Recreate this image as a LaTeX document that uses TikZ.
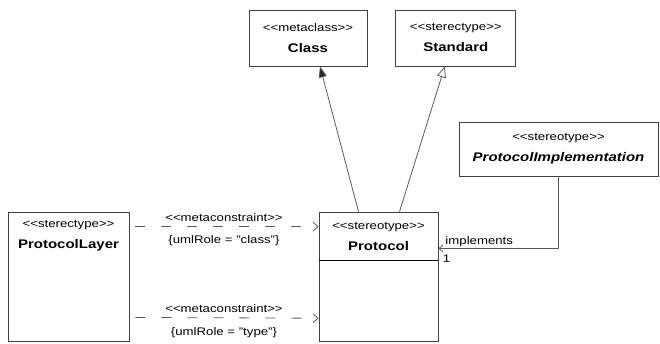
\documentclass[tikz,border=0pt]{standalone}
\usepackage{fontspec}
\setmainfont{Liberation Sans}[FakeStretch=1.2]
\usetikzlibrary{positioning, arrows.meta}

\newcommand{\stereo}[1]{{<}{<}#1{>}{>}}
\newcommand{\umlname}[1]{{\fontsize{12.5}{21}\selectfont\bfseries #1}}

\begin{document}
\begin{tikzpicture}[
    x=1pt, y=-1pt,
    classbox/.style={draw=black!75, line width=0.8pt, inner sep=2pt, align=center, font=\fontsize{11}{21}\selectfont},
    conn/.style={draw=black!65, line width=0.8pt},
    extension/.style={conn, -{Triangle[length=11pt, width=8pt, fill=black!85]}},
    generalization/.style={conn, -{Triangle[open, length=11pt, width=9pt, fill=white]}},
    dependency/.style={conn, dash pattern=on 10pt off 16pt, dash phase=-6pt, -{Straight Barb[length=5pt, width=9pt]}},
    lbl/.style={font=\fontsize{11}{13}\selectfont, inner sep=1pt},
]
\useasboundingbox (0,0) rectangle (660,343);

% metamodel
\node[classbox, minimum width=118pt, minimum height=56pt] (class) at (308,38) {\stereo{metaclass}\\\umlname{Class}};
\node[classbox, minimum width=120pt, minimum height=56pt, right=28pt of class] (standard) {\stereo{sterectype}\\\umlname{Standard}};
\node[classbox, minimum width=199pt, minimum height=54pt] (impl) at (558.5,149) {\stereo{stereotype}\\\umlname{\itshape ProtocolImplementation}};

% protocol with two compartments
\node[classbox, minimum width=119pt, minimum height=48pt] (protohead) at (378.5,236) {\stereo{stereotype}\\\umlname{Protocol}};
\node[classbox, minimum width=119pt, minimum height=81pt, below=0pt of protohead] (protobody) {};
\draw[line width=1.4pt] (protohead.south west) -- (protohead.south east);

\node[classbox, minimum width=121pt, minimum height=129pt] (layer) at (68.5,276.5) {};
\node[classbox, draw=none] (layertext) at (layer |- protohead) {\stereo{sterectype}\\\umlname{ProtocolLayer}};

\draw[extension] ([xshift=-20pt]protohead.north) -- ([xshift=12pt]class.south);
\draw[generalization] ([xshift=21pt]protohead.north) -- ([xshift=-11pt]standard.south);

\draw[dependency] ([yshift=-15pt]layer.north east) -- ([yshift=-15pt]protohead.north west)
    node[midway, above=4pt, lbl] {\stereo{metaconstraint}}
    node[midway, below=8pt, lbl] {\{umlRole = "class"\}};
\draw[dependency] ([yshift=24pt]layer.south east) -- ([yshift=24pt]protobody.south west)
    node[midway, above=4pt, lbl] {\stereo{metaconstraint}}
    node[midway, below=8pt, lbl] {\{umlRole = "type"\}};

\draw[conn, -{Straight Barb[length=4pt, width=7pt]}] (impl.south) |- ([yshift=12pt]protohead.south east)
    node[pos=0.83, above, lbl] {implements}
    node[pos=1, below right=5pt and 3pt, lbl] {1};
\end{tikzpicture}
\end{document}
